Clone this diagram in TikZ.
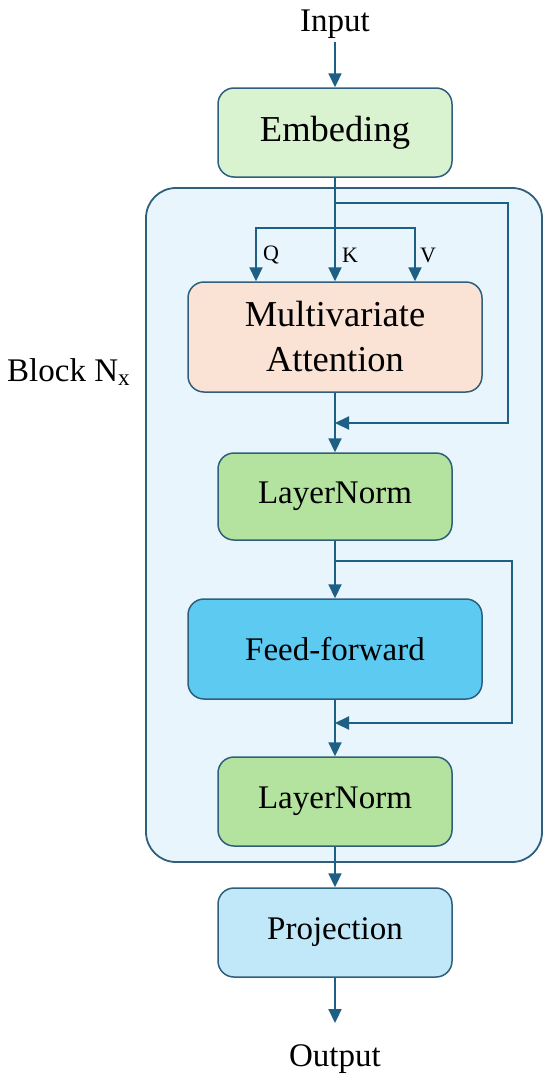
\documentclass[tikz,border=0pt]{standalone}
\usepackage{fontspec}
\setmainfont{Liberation Serif}
\usepackage{xcolor}
\definecolor{cLine}{HTML}{1E5F86}
\definecolor{cEdge}{HTML}{2F5F7C}
\definecolor{cBlock}{HTML}{E8F5FC}
\definecolor{cEmb}{HTML}{D9F2D0}
\definecolor{cAtt}{HTML}{FAE2D5}
\definecolor{cNorm}{HTML}{B4E3A0}
\definecolor{cFF}{HTML}{5DCAF2}
\definecolor{cProj}{HTML}{C0E8F8}
\usepackage{tikz}
\usetikzlibrary{positioning,arrows.meta,calc}
\tikzset{
  node-box/.style={draw=cEdge,line width=1.5pt,rounded corners=16pt,
    minimum height=89pt,minimum width=234pt,align=center,
    font=\fontsize{33}{44}\selectfont},
  node-wide/.style={node-box,minimum width=294pt},
  node-big/.style={font=\fontsize{36.5}{45}\selectfont},
  node-block/.style={draw=cEdge,line width=1.8pt,fill=cBlock,rounded corners=30pt},
  node-label/.style={font=\fontsize{33}{40}\selectfont,inner sep=3pt},
  node-qkv/.style={font=\fontsize{22}{26}\selectfont,inner sep=0pt},
  % residual paths and main flow share the same arrow
  arrow/.style={-{Triangle[length=14pt,width=13pt]},line width=2.2pt,draw=cLine},
}
\begin{document}
\begin{tikzpicture}[x=1pt,y=-1pt]
  \useasboundingbox (0,0) rectangle (550,1081);
  \draw[node-block] (146,188) rectangle (542,862);
  \node[node-label,anchor=west] (blk) at (4,372) {Block N\textsubscript{x}};

  \node[node-label] (in) at (335,24) {Input};
  \node[node-box,node-big,fill=cEmb] (emb) at (335,132.5) {Embeding};
  \node[node-wide,node-big,fill=cAtt,minimum height=110pt] (att) at (335,337) {Multivariate\\Attention};
  \node[node-box,fill=cNorm,minimum height=87pt] (ln1) at (335,496.5) {LayerNorm};
  \node[node-wide,fill=cFF,minimum height=100pt] (ff) at (335,649) {Feed-forward};
  \node[node-box,fill=cNorm] (ln2) at (335,801.5) {LayerNorm};
  \node[node-box,fill=cProj] (proj) at (335,932.5) {Projection};
  \node[node-label] (out) at (335,1059) {Output};

  \node[node-qkv] (q) at (271,255) {Q};
  \node[node-qkv] (k) at (350,255) {K};
  \node[node-qkv] (v) at (428,255) {V};

  \coordinate (s1) at (335,203);
  \coordinate (qkv) at (335,228);
  \coordinate (m1) at (335,423);
  \coordinate (s2) at (335,561);
  \coordinate (m2) at (335,723);
  \coordinate (outtip) at (335,1023);

  \draw[arrow] (in) -- (emb);
  \draw[arrow] (emb) -- (att);
  \draw[arrow] (qkv) -| ([xshift=-79pt]att.north);
  \draw[arrow] (qkv) -| ([xshift=80pt]att.north);
  \draw[arrow] (s1) -- ++(173,0) |- (m1);
  \draw[arrow] (att) -- (ln1);
  \draw[arrow] (ln1) -- (ff);
  \draw[arrow] (s2) -- ++(177,0) |- (m2);
  \draw[arrow] (ff) -- (ln2);
  \draw[arrow] (ln2) -- (proj);
  \draw[arrow] (proj) -- (outtip);
\end{tikzpicture}
\end{document}
